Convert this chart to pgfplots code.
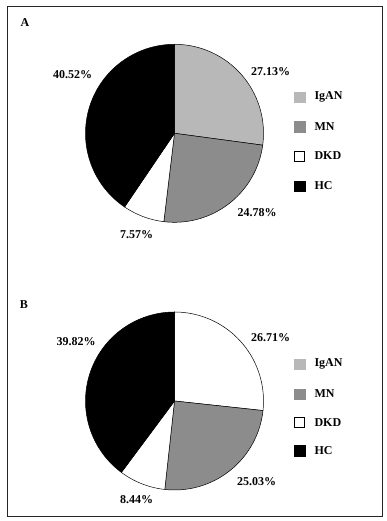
\documentclass[border=0pt]{standalone}
\usepackage{pgfplots}
\pgfplotsset{compat=1.18}
\usepackage{fontspec}
\setmainfont{Liberation Serif}
\definecolor{igan}{gray}{0.72}
\definecolor{mn}{gray}{0.55}
\tikzset{lbl/.style={font=\fontsize{12}{14}\selectfont\bfseries}}
\begin{document}
\begin{tikzpicture}
\begin{axis}[
  width=375pt, height=510pt, scale only axis,
  xmin=7, xmax=382, ymin=5, ymax=515,
  xtick=\empty, ytick=\empty,
  axis line style={black!85, line width=0.8pt},
  clip=false,
]
\path (axis cs:0,0) (axis cs:387,521);
% ---------- Pie A: IgAN 27.13, MN 24.78, DKD 7.57, HC 40.52 ----------
\addplot[fill=igan, draw=black, line width=0.5pt, domain={90-3.6*(27.13)}:{90}, samples=60, variable=\t]
  ({174.5+89*cos(t)},{387.7+89*sin(t)}) -- (axis cs:174.5,387.7) -- cycle;
\addplot[fill=mn, draw=black, line width=0.5pt, domain={90-3.6*(27.13+24.78)}:{90-3.6*(27.13)}, samples=60, variable=\t]
  ({174.5+89*cos(t)},{387.7+89*sin(t)}) -- (axis cs:174.5,387.7) -- cycle;
\addplot[fill=white, draw=black, line width=0.5pt, domain={90-3.6*(27.13+24.78+7.57)}:{90-3.6*(27.13+24.78)}, samples=30, variable=\t]
  ({174.5+89*cos(t)},{387.7+89*sin(t)}) -- (axis cs:174.5,387.7) -- cycle;
\addplot[fill=black, draw=black, line width=0.5pt, domain={90-3.6*(27.13+24.78+7.57+40.52)}:{90-3.6*(27.13+24.78+7.57)}, samples=80, variable=\t]
  ({174.5+89*cos(t)},{387.7+89*sin(t)}) -- (axis cs:174.5,387.7) -- cycle;
\node[lbl] at (axis cs:25,498) {A};
\node[lbl] at (axis cs:72.7,446) {40.52\%};
\node[lbl] at (axis cs:270.7,449.3) {27.13\%};
\node[lbl] at (axis cs:257,308) {24.78\%};
\node[lbl] at (axis cs:136.7,286) {7.57\%};
\addplot[only marks, mark=square*, mark size=5.2pt, mark options={fill=igan, draw=igan}] coordinates {(299.5,423.7)};
\addplot[only marks, mark=square*, mark size=5.2pt, mark options={fill=mn, draw=mn}] coordinates {(299.5,394.3)};
\addplot[only marks, mark=square*, mark size=5.0pt, mark options={fill=white, draw=black, line width=0.8pt}] coordinates {(299.5,365)};
\addplot[only marks, mark=square*, mark size=5.2pt, mark options={fill=black, draw=black}] coordinates {(299.5,335)};
\node[lbl, anchor=west] at (axis cs:311,423.7) {IgAN};
\node[lbl, anchor=west] at (axis cs:311,394.3) {MN};
\node[lbl, anchor=west] at (axis cs:311,365) {DKD};
\node[lbl, anchor=west] at (axis cs:311,335) {HC};
% ---------- Pie B: 26.71, MN 25.03, DKD 8.44, HC 39.82 ----------
\addplot[fill=white, draw=black, line width=0.5pt, domain={90-3.6*(26.71)}:{90}, samples=60, variable=\t]
  ({174.5+89*cos(t)},{120+89*sin(t)}) -- (axis cs:174.5,120) -- cycle;
\addplot[fill=mn, draw=black, line width=0.5pt, domain={90-3.6*(26.71+25.03)}:{90-3.6*(26.71)}, samples=60, variable=\t]
  ({174.5+89*cos(t)},{120+89*sin(t)}) -- (axis cs:174.5,120) -- cycle;
\addplot[fill=white, draw=black, line width=0.5pt, domain={90-3.6*(26.71+25.03+8.44)}:{90-3.6*(26.71+25.03)}, samples=30, variable=\t]
  ({174.5+89*cos(t)},{120+89*sin(t)}) -- (axis cs:174.5,120) -- cycle;
\addplot[fill=black, draw=black, line width=0.5pt, domain={90-3.6*(26.71+25.03+8.44+39.82)}:{90-3.6*(26.71+25.03+8.44)}, samples=80, variable=\t]
  ({174.5+89*cos(t)},{120+89*sin(t)}) -- (axis cs:174.5,120) -- cycle;
\node[lbl] at (axis cs:24,216) {B};
\node[lbl] at (axis cs:76,179) {39.82\%};
\node[lbl] at (axis cs:270.7,183.3) {26.71\%};
\node[lbl] at (axis cs:256.7,39.3) {25.03\%};
\node[lbl] at (axis cs:136.7,21) {8.44\%};
\addplot[only marks, mark=square*, mark size=5.2pt, mark options={fill=igan, draw=igan}] coordinates {(299.5,156.7)};
\addplot[only marks, mark=square*, mark size=5.2pt, mark options={fill=mn, draw=mn}] coordinates {(299.5,127)};
\addplot[only marks, mark=square*, mark size=5.0pt, mark options={fill=white, draw=black, line width=0.8pt}] coordinates {(299.5,98.7)};
\addplot[only marks, mark=square*, mark size=5.2pt, mark options={fill=black, draw=black}] coordinates {(299.5,70.3)};
\node[lbl, anchor=west] at (axis cs:311,156.7) {IgAN};
\node[lbl, anchor=west] at (axis cs:311,127) {MN};
\node[lbl, anchor=west] at (axis cs:311,98.7) {DKD};
\node[lbl, anchor=west] at (axis cs:311,70.3) {HC};
\end{axis}
\end{tikzpicture}
\end{document}
